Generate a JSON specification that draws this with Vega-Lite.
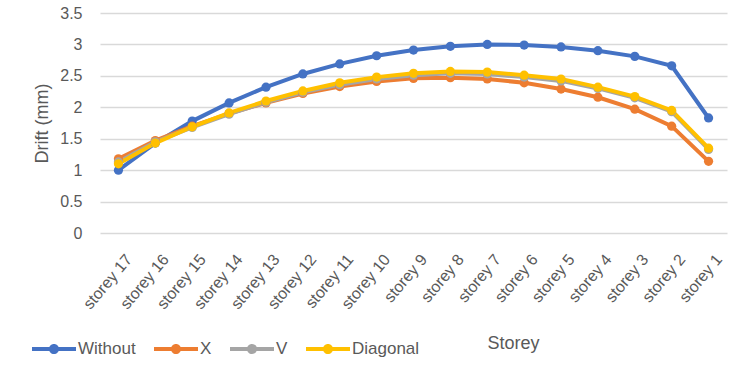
{
  "$schema": "https://vega.github.io/schema/vega-lite/v6.json",
  "width": 627,
  "height": 220,
  "autosize": {"type": "none"},
  "padding": {"left": 100, "top": 13, "right": 25, "bottom": 145},
  "background": "white",
  "config": {
    "view": {"stroke": null},
    "font": "Liberation Sans"
  },
  "data": {
    "values": [
      {"storey": "storey 17", "series": "Without", "drift": 1.00},
      {"storey": "storey 16", "series": "Without", "drift": 1.43},
      {"storey": "storey 15", "series": "Without", "drift": 1.78},
      {"storey": "storey 14", "series": "Without", "drift": 2.07},
      {"storey": "storey 13", "series": "Without", "drift": 2.32},
      {"storey": "storey 12", "series": "Without", "drift": 2.53},
      {"storey": "storey 11", "series": "Without", "drift": 2.69},
      {"storey": "storey 10", "series": "Without", "drift": 2.82},
      {"storey": "storey 9", "series": "Without", "drift": 2.91},
      {"storey": "storey 8", "series": "Without", "drift": 2.97},
      {"storey": "storey 7", "series": "Without", "drift": 3.00},
      {"storey": "storey 6", "series": "Without", "drift": 2.99},
      {"storey": "storey 5", "series": "Without", "drift": 2.96},
      {"storey": "storey 4", "series": "Without", "drift": 2.90},
      {"storey": "storey 3", "series": "Without", "drift": 2.81},
      {"storey": "storey 2", "series": "Without", "drift": 2.66},
      {"storey": "storey 1", "series": "Without", "drift": 1.83},
      {"storey": "storey 17", "series": "X", "drift": 1.18},
      {"storey": "storey 16", "series": "X", "drift": 1.47},
      {"storey": "storey 15", "series": "X", "drift": 1.70},
      {"storey": "storey 14", "series": "X", "drift": 1.90},
      {"storey": "storey 13", "series": "X", "drift": 2.07},
      {"storey": "storey 12", "series": "X", "drift": 2.22},
      {"storey": "storey 11", "series": "X", "drift": 2.33},
      {"storey": "storey 10", "series": "X", "drift": 2.41},
      {"storey": "storey 9", "series": "X", "drift": 2.46},
      {"storey": "storey 8", "series": "X", "drift": 2.47},
      {"storey": "storey 7", "series": "X", "drift": 2.45},
      {"storey": "storey 6", "series": "X", "drift": 2.39},
      {"storey": "storey 5", "series": "X", "drift": 2.29},
      {"storey": "storey 4", "series": "X", "drift": 2.16},
      {"storey": "storey 3", "series": "X", "drift": 1.97},
      {"storey": "storey 2", "series": "X", "drift": 1.70},
      {"storey": "storey 1", "series": "X", "drift": 1.14},
      {"storey": "storey 17", "series": "V", "drift": 1.13},
      {"storey": "storey 16", "series": "V", "drift": 1.45},
      {"storey": "storey 15", "series": "V", "drift": 1.68},
      {"storey": "storey 14", "series": "V", "drift": 1.89},
      {"storey": "storey 13", "series": "V", "drift": 2.08},
      {"storey": "storey 12", "series": "V", "drift": 2.24},
      {"storey": "storey 11", "series": "V", "drift": 2.36},
      {"storey": "storey 10", "series": "V", "drift": 2.45},
      {"storey": "storey 9", "series": "V", "drift": 2.51},
      {"storey": "storey 8", "series": "V", "drift": 2.54},
      {"storey": "storey 7", "series": "V", "drift": 2.53},
      {"storey": "storey 6", "series": "V", "drift": 2.48},
      {"storey": "storey 5", "series": "V", "drift": 2.42},
      {"storey": "storey 4", "series": "V", "drift": 2.30},
      {"storey": "storey 3", "series": "V", "drift": 2.15},
      {"storey": "storey 2", "series": "V", "drift": 1.93},
      {"storey": "storey 1", "series": "V", "drift": 1.33},
      {"storey": "storey 17", "series": "Diagonal", "drift": 1.10},
      {"storey": "storey 16", "series": "Diagonal", "drift": 1.43},
      {"storey": "storey 15", "series": "Diagonal", "drift": 1.69},
      {"storey": "storey 14", "series": "Diagonal", "drift": 1.91},
      {"storey": "storey 13", "series": "Diagonal", "drift": 2.10},
      {"storey": "storey 12", "series": "Diagonal", "drift": 2.26},
      {"storey": "storey 11", "series": "Diagonal", "drift": 2.39},
      {"storey": "storey 10", "series": "Diagonal", "drift": 2.48},
      {"storey": "storey 9", "series": "Diagonal", "drift": 2.54},
      {"storey": "storey 8", "series": "Diagonal", "drift": 2.57},
      {"storey": "storey 7", "series": "Diagonal", "drift": 2.56},
      {"storey": "storey 6", "series": "Diagonal", "drift": 2.51},
      {"storey": "storey 5", "series": "Diagonal", "drift": 2.45},
      {"storey": "storey 4", "series": "Diagonal", "drift": 2.32},
      {"storey": "storey 3", "series": "Diagonal", "drift": 2.17},
      {"storey": "storey 2", "series": "Diagonal", "drift": 1.95},
      {"storey": "storey 1", "series": "Diagonal", "drift": 1.35}
    ]
  },
  "mark": {"type": "line", "strokeWidth": 4, "point": {"size": 85, "filled": true, "opacity": 1}},
  "encoding": {
    "x": {
      "field": "storey",
      "type": "nominal",
      "sort": null,
      "scale": {"paddingInner": 0, "paddingOuter": 0},
      "axis": {
        "title": "Storey",
        "titleFontSize": 18,
        "titleFontWeight": "normal",
        "titleColor": "#595959",
        "titleX": 413,
        "titleY": 110,
        "titleBaseline": "middle",
        "labelAngle": -50,
        "labelAlign": "right",
        "labelBaseline": "top",
        "labelOffset": 4,
        "labelFontSize": 16,
        "labelColor": "#595959",
        "labelPadding": 18,
        "domain": false,
        "ticks": false,
        "grid": false
      }
    },
    "y": {
      "field": "drift",
      "type": "quantitative",
      "scale": {"domain": [0, 3.5], "nice": false},
      "axis": {
        "title": "Drift (mm)",
        "titleFontSize": 18,
        "titleFontWeight": "normal",
        "titleColor": "#595959",
        "titleX": -58,
        "titleY": 110,
        "titleBaseline": "middle",
        "values": [0, 0.5, 1, 1.5, 2, 2.5, 3, 3.5],
        "format": "~g",
        "labelFontSize": 16,
        "labelColor": "#595959",
        "labelPadding": 18,
        "domain": false,
        "ticks": false,
        "gridColor": "#D9D9D9",
        "gridWidth": 1.3
      }
    },
    "color": {
      "field": "series",
      "type": "nominal",
      "sort": ["Without", "X", "V", "Diagonal"],
      "scale": {"domain": ["Without", "X", "V", "Diagonal"], "range": ["#4472C4", "#ED7D31", "#A5A5A5", "#FFC000"]},
      "legend": {
        "title": null,
        "orient": "none",
        "direction": "horizontal",
        "legendX": -68,
        "legendY": 314,
        "symbolType": "M-1,-0.09H1V0.09H-1Z M0.23,0A0.23,0.23,0,1,1,-0.23,0A0.23,0.23,0,1,1,0.23,0Z",
        "symbolSize": 1936,
        "symbolStrokeWidth": 0,
        "labelFontSize": 17,
        "labelColor": "#595959",
        "labelOffset": 2,
        "columnPadding": 18,
        "encode": {"symbols": {"update": {"fill": {"scale": "color", "field": "value"}, "strokeWidth": {"value": 0}}}}
      }
    }
  }
}
